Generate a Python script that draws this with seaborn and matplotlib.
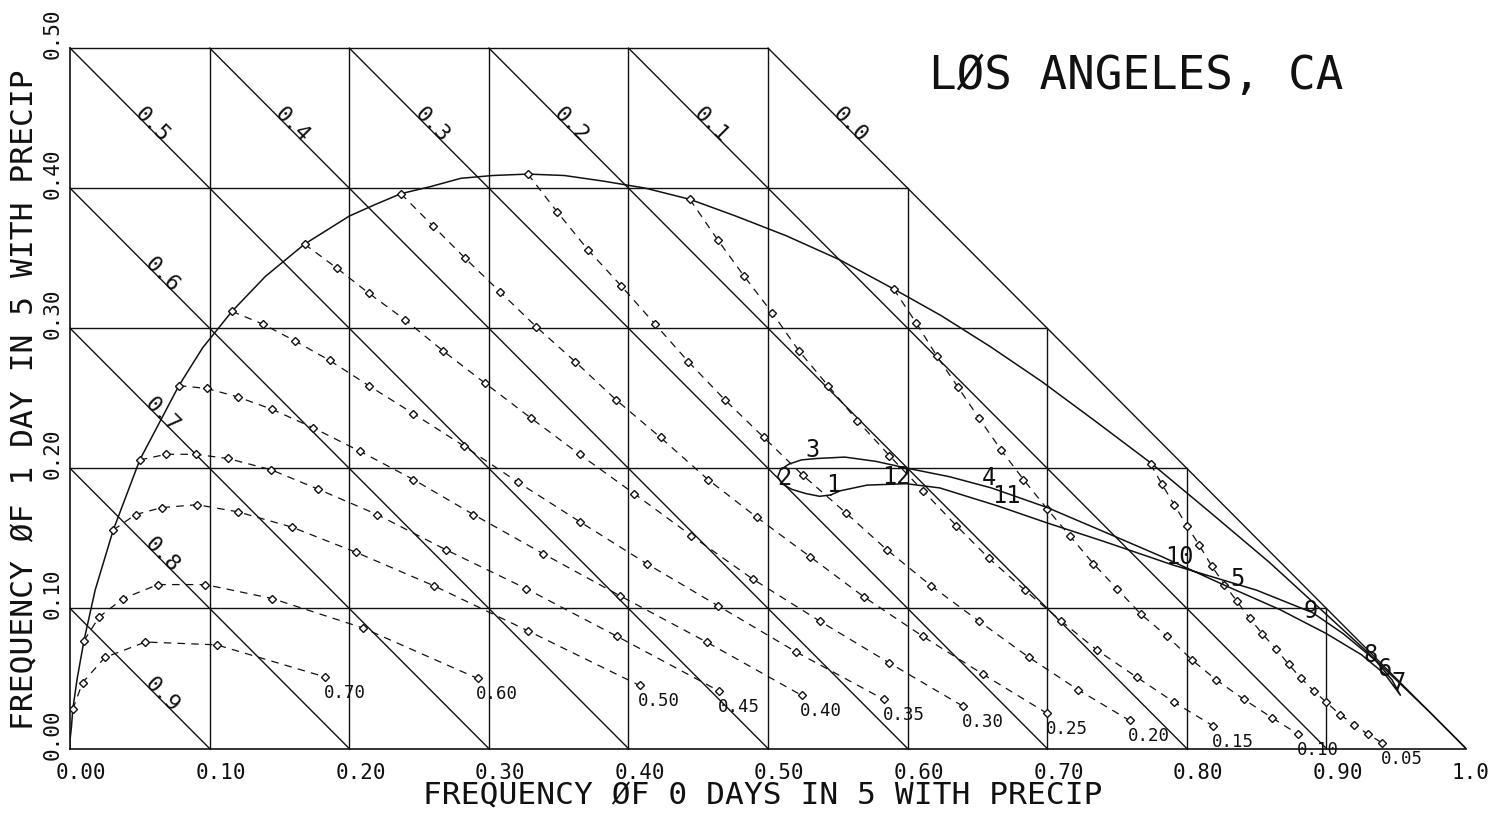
import matplotlib
matplotlib.use("Agg")
import matplotlib.pyplot as plt
import matplotlib.transforms as mtransforms
import numpy as np
import pandas as pd
import seaborn as sns

# Independent-day (binomial) curve
binom_x = [0.000, 0.000, 0.001, 0.002, 0.005, 0.010, 0.018, 0.031, 0.050, 0.078, 0.095,
           0.116, 0.140, 0.168, 0.200, 0.218, 0.237, 0.258, 0.280, 0.303, 0.328, 0.354,
           0.382, 0.412, 0.444, 0.477, 0.513, 0.551, 0.590, 0.624, 0.659, 0.696, 0.734,
           0.774, 0.815, 0.859, 0.904, 0.927, 0.951, 0.975, 1.000]
binom_y = [0.000, 0.006, 0.015, 0.028, 0.049, 0.077, 0.113, 0.156, 0.206, 0.259, 0.286,
           0.312, 0.337, 0.360, 0.380, 0.388, 0.396, 0.401, 0.407, 0.409, 0.410, 0.409,
           0.405, 0.400, 0.392, 0.380, 0.366, 0.349, 0.328, 0.309, 0.287, 0.262, 0.234,
           0.204, 0.170, 0.133, 0.092, 0.071, 0.048, 0.025, 0.000]

# Dashed curves, one per daily precip probability
c005_x = [0.774, 0.782, 0.791, 0.800, 0.809, 0.818, 0.827, 0.836, 0.845, 0.854, 0.864,
          0.873, 0.882, 0.891, 0.900, 0.910, 0.920, 0.930, 0.940]
c005_y = [0.203, 0.189, 0.174, 0.159, 0.145, 0.130, 0.117, 0.105, 0.093, 0.082, 0.071,
          0.060, 0.050, 0.041, 0.033, 0.024, 0.017, 0.010, 0.004]
c010_x = [0.590, 0.606, 0.621, 0.636, 0.651, 0.667, 0.683, 0.700, 0.716, 0.733, 0.750,
          0.767, 0.786, 0.804, 0.821, 0.841, 0.861, 0.880]
c010_y = [0.328, 0.304, 0.280, 0.258, 0.236, 0.213, 0.192, 0.171, 0.152, 0.132, 0.114,
          0.096, 0.080, 0.063, 0.049, 0.035, 0.022, 0.010]
c015_x = [0.444, 0.464, 0.483, 0.503, 0.522, 0.543, 0.564, 0.587, 0.611, 0.635, 0.658,
          0.684, 0.710, 0.736, 0.764, 0.791, 0.819]
c015_y = [0.392, 0.363, 0.337, 0.311, 0.284, 0.259, 0.234, 0.209, 0.184, 0.159, 0.136,
          0.113, 0.091, 0.070, 0.051, 0.033, 0.016]
c020_x = [0.328, 0.349, 0.371, 0.395, 0.419, 0.443, 0.469, 0.497, 0.525, 0.556, 0.585,
          0.617, 0.651, 0.687, 0.722, 0.759]
c020_y = [0.410, 0.383, 0.356, 0.330, 0.303, 0.276, 0.249, 0.222, 0.195, 0.168, 0.142,
          0.116, 0.091, 0.065, 0.042, 0.020]
c025_x = [0.237, 0.260, 0.283, 0.308, 0.334, 0.362, 0.391, 0.423, 0.457, 0.492, 0.530,
          0.569, 0.611, 0.654, 0.700]
c025_y = [0.396, 0.373, 0.350, 0.326, 0.301, 0.276, 0.249, 0.222, 0.192, 0.165, 0.137,
          0.108, 0.080, 0.053, 0.025]
c030_x = [0.168, 0.191, 0.214, 0.240, 0.267, 0.297, 0.330, 0.365, 0.404, 0.445, 0.489,
          0.537, 0.587, 0.640]
c030_y = [0.360, 0.343, 0.325, 0.306, 0.284, 0.261, 0.236, 0.210, 0.182, 0.152, 0.121,
          0.091, 0.061, 0.030]
c035_x = [0.116, 0.138, 0.161, 0.186, 0.214, 0.246, 0.282, 0.321, 0.365, 0.413, 0.464,
          0.520, 0.583]
c035_y = [0.312, 0.303, 0.291, 0.277, 0.259, 0.239, 0.216, 0.190, 0.162, 0.132, 0.102,
          0.069, 0.035]
c040_x = [0.078, 0.098, 0.120, 0.145, 0.174, 0.208, 0.246, 0.289, 0.339, 0.394, 0.456, 0.524]
c040_y = [0.259, 0.257, 0.251, 0.242, 0.229, 0.212, 0.192, 0.167, 0.139, 0.109, 0.076, 0.038]
c045_x = [0.050, 0.069, 0.090, 0.113, 0.144, 0.178, 0.220, 0.269, 0.327, 0.392, 0.465]
c045_y = [0.206, 0.210, 0.210, 0.207, 0.199, 0.185, 0.167, 0.142, 0.114, 0.080, 0.041]
c050_x = [0.031, 0.047, 0.066, 0.091, 0.120, 0.159, 0.205, 0.261, 0.328, 0.408]
c050_y = [0.156, 0.167, 0.172, 0.174, 0.169, 0.158, 0.140, 0.116, 0.084, 0.045]
c060_x = [0.010, 0.021, 0.038, 0.063, 0.097, 0.145, 0.210, 0.292]
c060_y = [0.077, 0.094, 0.107, 0.117, 0.117, 0.107, 0.086, 0.050]
c070_x = [0.002, 0.009, 0.025, 0.054, 0.105, 0.183]
c070_y = [0.028, 0.047, 0.065, 0.076, 0.074, 0.051]

curve_labels = ["0.05", "0.10", "0.15", "0.20", "0.25", "0.30",
                "0.35", "0.40", "0.45", "0.50", "0.60", "0.70"]
curve_xs = [c005_x, c010_x, c015_x, c020_x, c025_x, c030_x,
            c035_x, c040_x, c045_x, c050_x, c060_x, c070_x]
curve_ys = [c005_y, c010_y, c015_y, c020_y, c025_y, c030_y,
            c035_y, c040_y, c045_y, c050_y, c060_y, c070_y]

# Los Angeles monthly loop (closed)
loop_x = [0.545, 0.537, 0.527, 0.517, 0.510, 0.507, 0.509, 0.515, 0.524, 0.535, 0.555,
          0.577, 0.600, 0.630, 0.660, 0.700, 0.740, 0.782, 0.826, 0.867, 0.900, 0.925,
          0.942, 0.953, 0.947, 0.935, 0.912, 0.890, 0.850, 0.790, 0.740, 0.700, 0.665,
          0.623, 0.599, 0.571, 0.552, 0.545]
loop_y = [0.181, 0.180, 0.182, 0.185, 0.189, 0.194, 0.199, 0.203, 0.206, 0.207, 0.208,
          0.205, 0.200, 0.194, 0.186, 0.172, 0.155, 0.137, 0.117, 0.099, 0.082, 0.067,
          0.053, 0.038, 0.049, 0.063, 0.082, 0.097, 0.113, 0.131, 0.148, 0.161, 0.173,
          0.186, 0.189, 0.188, 0.184, 0.181]
month_labels = ["1", "2", "3", "4", "5", "6", "7", "8", "9", "10", "11", "12"]
month_x = [0.547, 0.512, 0.532, 0.658, 0.836, 0.942, 0.952, 0.932, 0.889, 0.795, 0.671, 0.592]
month_y = [0.188, 0.193, 0.213, 0.193, 0.121, 0.057, 0.047, 0.067, 0.098, 0.137, 0.180, 0.194]

# Diagonal labels: frequency of 2+ days, for lines x + y = 1 - label
diag_labels = ["0.9", "0.8", "0.7", "0.6", "0.5", "0.4", "0.3", "0.2", "0.1", "0.0"]

xtick_labels = ["0.00", "0.10", "0.20", "0.30", "0.40", "0.50",
                "0.60", "0.70", "0.80", "0.90", "1.0"]
ytick_labels = ["0.00", "0.10", "0.20", "0.30", "0.40", "0.50"]

sns.set_theme(style="white")
plt.rcParams['font.family'] = ['DejaVu Sans Mono', 'DejaVu Sans']

fig = plt.figure(figsize=(15.08, 8.15), dpi=100)
ax = fig.add_axes([70 / 1508, 66.5 / 815, 1396 / 1508, 700.5 / 815])
ax.set_xlim(0, 1.0)
ax.set_ylim(0, 0.5)

ink = "#111111"
lw = 1.0

# grid frame
grid = np.round(np.arange(0.1, 1.0, 0.1), 1)
for g in grid:
    ax.plot([g, g], [0, min(0.5, 1 - g)], color=ink, lw=lw, clip_on=False)
for g in grid[:4]:
    ax.plot([0, 1 - g], [g, g], color=ink, lw=lw, clip_on=False)
ax.plot([0, 0.5], [0.5, 0.5], color=ink, lw=lw, clip_on=False)

# diagonals and their labels
for i, lab in enumerate(diag_labels):
    c = round(0.1 * (i + 1), 1)
    if c <= 0.5:
        ax.plot([0, c], [c, 0], color=ink, lw=lw, clip_on=False)
    else:
        ax.plot([c - 0.5, c], [0.5, 0], color=ink, lw=lw, clip_on=False)
    if c < 0.5:
        tx = 0.066
    else:
        tx = c - 0.441
    ty = c - tx + 0.004
    ax.text(tx, ty, lab, rotation=-45, rotation_mode="anchor", ha="center", va="center",
            fontsize=16, color=ink)

# binomial curve
sns.lineplot(x=binom_x, y=binom_y, sort=False, estimator=None, ax=ax,
             color=ink, lw=1.1)

# dashed curves
for lab, xs, ys in zip(curve_labels, curve_xs, curve_ys):
    sns.lineplot(x=xs, y=ys, sort=False, estimator=None, ax=ax, color=ink, lw=0.9,
                 linestyle=(0, (6, 5)), marker="D", markersize=4.3,
                 markerfacecolor="white", markeredgecolor=ink, markeredgewidth=1.0)
    ax.annotate(lab, (xs[-1], ys[-1]), xytext=(-1, -5), textcoords="offset points",
                ha="left", va="top", fontsize=12.5, color=ink)

# monthly loop
sns.lineplot(x=loop_x, y=loop_y, sort=False, estimator=None, ax=ax, color=ink, lw=1.1)
for lab, mx, my in zip(month_labels, month_x, month_y):
    ax.text(mx, my, lab, ha="center", va="center", fontsize=17, color=ink)

ax.text(0.764, 0.480, "LØS ANGELES, CA", ha="center", va="center", fontsize=33, color=ink)

# axes
for s in ["top", "right"]:
    ax.spines[s].set_visible(False)
for s in ["bottom", "left"]:
    ax.spines[s].set_color(ink)
    ax.spines[s].set_linewidth(1.2)

ax.set_xticks(np.round(np.arange(0, 1.01, 0.1), 1))
ax.set_xticklabels(xtick_labels, fontsize=15, color=ink)
ax.set_yticks(np.round(np.arange(0, 0.51, 0.1), 1))
ax.set_yticklabels(ytick_labels, fontsize=15, color=ink, rotation=90)
ax.tick_params(axis="both", direction="out", length=6.5, width=1.0, color=ink)
ax.tick_params(axis="x", pad=4)
ax.tick_params(axis="y", pad=6)

dx = mtransforms.ScaledTranslation(-14 / 100, 0, fig.dpi_scale_trans)
for t in ax.get_xticklabels():
    t.set_ha("left")
    t.set_transform(t.get_transform() + dx)
dy = mtransforms.ScaledTranslation(0, -11 / 100, fig.dpi_scale_trans)
for t in ax.get_yticklabels():
    t.set_ha("center")
    t.set_va("bottom")
    t.set_transform(t.get_transform() + dy)

ax.set_xlabel("FREQUENCY ØF 0 DAYS IN 5 WITH PRECIP", fontsize=22.5, color=ink)
ax.set_ylabel("FREQUENCY ØF 1 DAY IN 5 WITH PRECIP", fontsize=22.5, color=ink)
ax.xaxis.set_label_coords(0.4965, -0.068)
ax.xaxis.label.set_va("center")
ax.yaxis.set_label_coords(-0.0325, 0.4975)
ax.yaxis.label.set_va("center")

fig.savefig("out.png", dpi=100, facecolor="white")
